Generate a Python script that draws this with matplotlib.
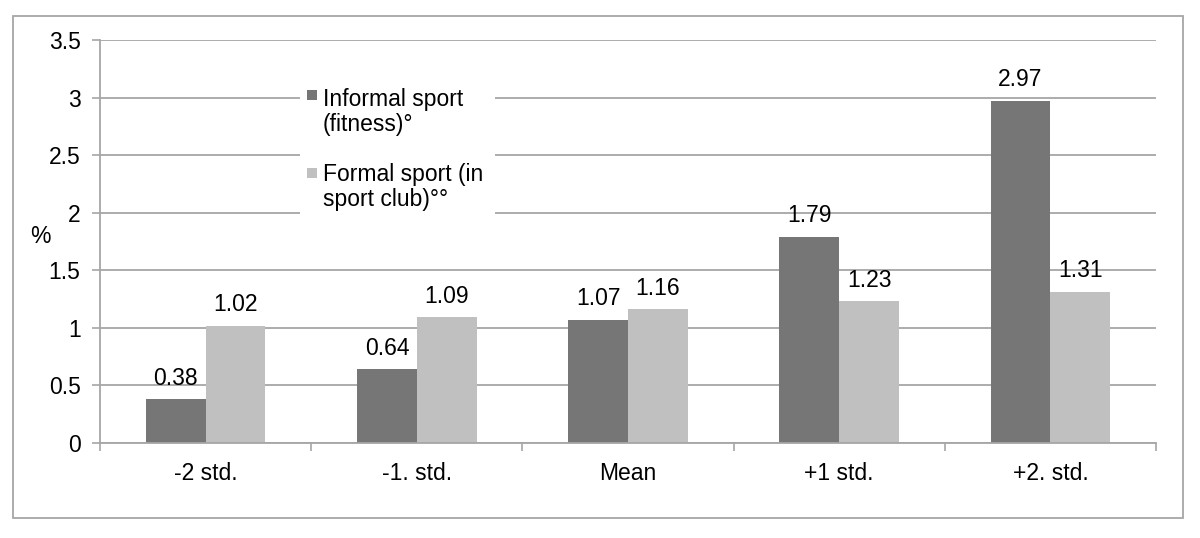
import matplotlib
matplotlib.use("Agg")
import matplotlib.pyplot as plt
from matplotlib.patches import Rectangle
import numpy as np

plt.rcParams['font.family'] = ['Liberation Sans', 'DejaVu Sans']

categories = ["-2 std.", "-1. std.", "Mean", "+1 std.", "+2. std."]
informal = [0.38, 0.64, 1.07, 1.79, 2.97]
formal = [1.02, 1.09, 1.16, 1.23, 1.31]
series_labels = [["Informal sport", "(fitness)°"], ["Formal sport (in", "sport club)°°"]]
yticks = [0, 0.5, 1, 1.5, 2, 2.5, 3, 3.5]
ytick_labels = ["0", "0.5", "1", "1.5", "2", "2.5", "3", "3.5"]

W, H = 1200, 538
fig = plt.figure(figsize=(W / 100, H / 100), dpi=100)
ax = fig.add_axes([100 / W, 1 - 443 / H, 1056 / W, 403 / H])

dark = "#767676"
light = "#c0c0c0"
gray = "#a6a6a6"
fs = 16.5

x = np.arange(len(categories))
bw = 0.283
b1 = ax.bar(x - bw / 2, informal, bw, color=dark, zorder=3)
b2 = ax.bar(x + bw / 2, formal, bw, color=light, zorder=3)

for bars, vals in ((b1, informal), (b2, formal)):
    for r, v in zip(bars, vals):
        ax.annotate(f"{v:.2f}", (r.get_x() + r.get_width() / 2, v), xytext=(0, 7),
                    textcoords="offset points", ha="center", va="bottom", fontsize=fs, color="black")

ax.set_xlim(-0.5, len(categories) - 0.5)
ax.set_ylim(0, 3.5)
ax.set_yticks(yticks)
ax.set_yticklabels(ytick_labels)
ax.set_xticks(x)
ax.set_xticklabels(categories)
ax.set_xticks(np.arange(len(categories) + 1) - 0.5, minor=True)
ax.tick_params(axis="x", which="major", length=0, pad=14, labelsize=fs)
ax.tick_params(axis="x", which="minor", length=6, width=1.2, color=gray)
ax.tick_params(axis="y", length=6, width=1.2, color=gray, pad=8, labelsize=fs)

ax.grid(axis="y", color=gray, linewidth=1.3, zorder=0)
ax.set_axisbelow(True)
for s in ("top", "right"):
    ax.spines[s].set_visible(False)
for s in ("left", "bottom"):
    ax.spines[s].set_color(gray)
    ax.spines[s].set_linewidth(1.3)
    ax.spines[s].set_zorder(4)

fig.text(40 / W, 1 - 236 / H, "%", ha="center", va="center", fontsize=fs)

# legend (manual, inside axes)
def axx(px):
    return (px - 100) / 1056
def axy(py):
    return (443 - py) / 403

ax.add_patch(Rectangle((axx(300), axy(225)), axx(495) - axx(300), axy(80) - axy(225),
                       transform=ax.transAxes, facecolor="white", edgecolor="none", zorder=2))
marker_tops = [90, 168]
baselines = [[106, 131], [181, 206]]
for col, mt, bl, lab in zip((dark, light), marker_tops, baselines, series_labels):
    ax.add_patch(Rectangle((axx(307), axy(mt + 10)), axx(317) - axx(307), axy(mt) - axy(mt + 10),
                           transform=ax.transAxes, facecolor=col, edgecolor="none", zorder=3))
    for b, t in zip(bl, lab):
        ax.text(axx(323), axy(b), t, transform=ax.transAxes, ha="left", va="baseline",
                fontsize=fs, zorder=3)

fig.patches.append(Rectangle((13 / W, 1 - 518 / H), 1170 / W, 502 / H, transform=fig.transFigure,
                             facecolor="none", edgecolor=gray, linewidth=1.3))

fig.savefig("out.png", dpi=100)
